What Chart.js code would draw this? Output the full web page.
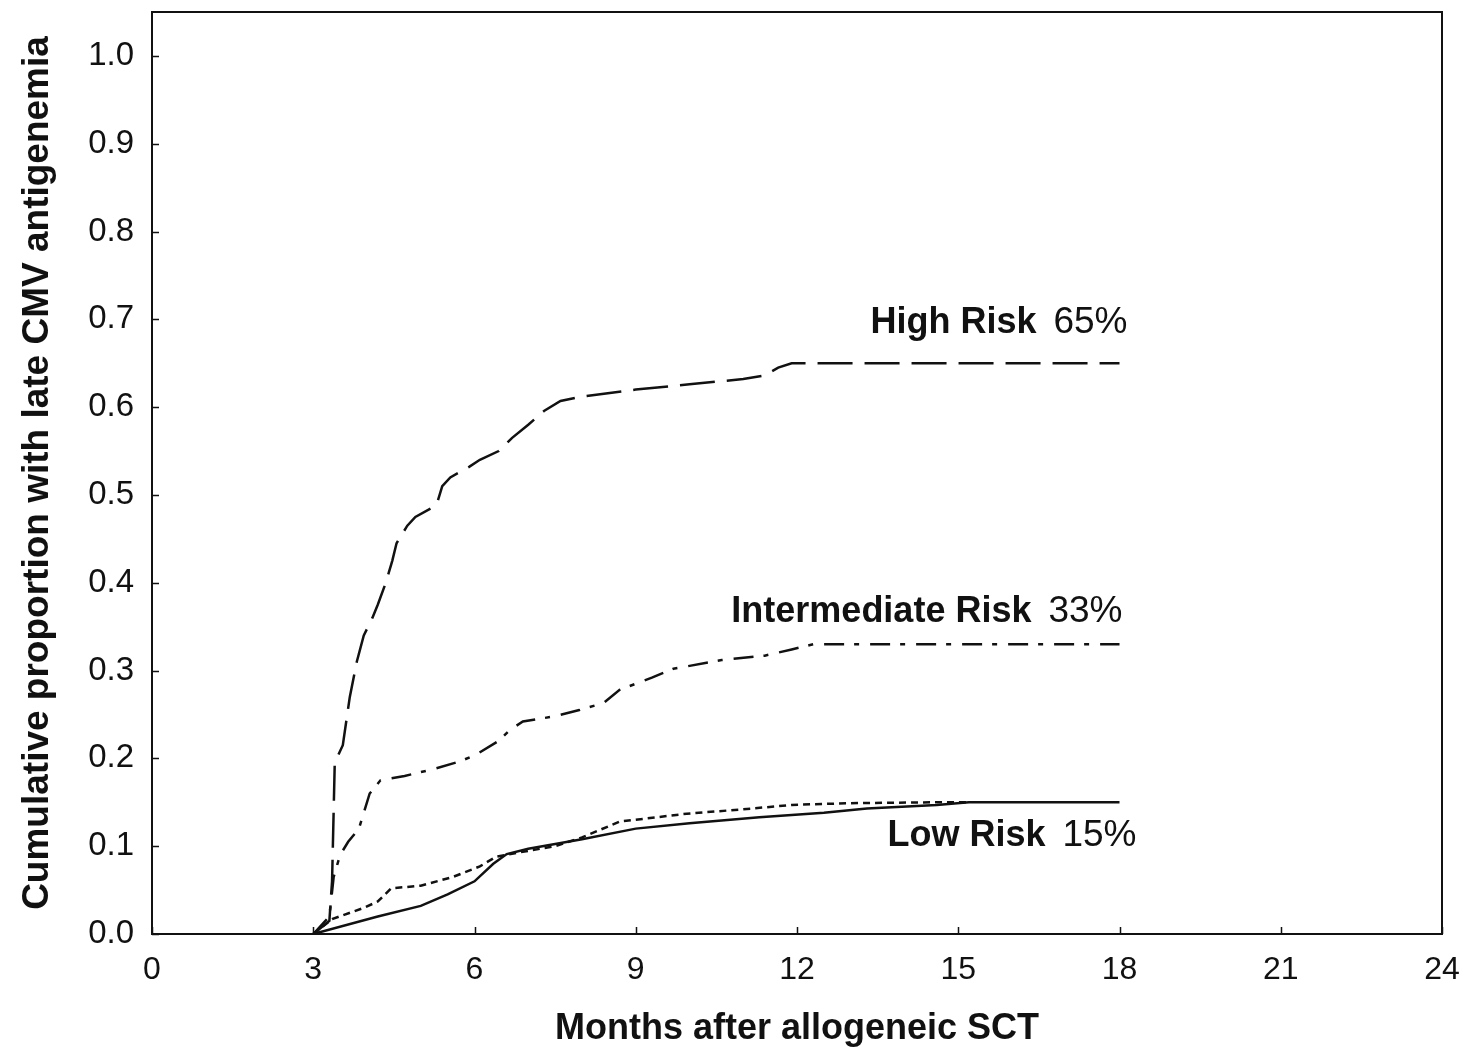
<!DOCTYPE html>
<html>
<head>
<meta charset="utf-8">
<title>Late CMV antigenemia by risk group</title>
<script src="https://cdn.jsdelivr.net/npm/chart.js@4/dist/chart.umd.min.js"></script>
<style>
  html, body { margin: 0; padding: 0; background: #fff; }
  #wrap { position: relative; width: 1471px; height: 1053px; }
</style>
</head>
<body>
<div id="wrap"><canvas id="cmvChart"></canvas></div>
<script>
// Cumulative incidence curves, months after transplant vs proportion
const highMonths = [3.0, 3.3, 3.35, 3.4, 3.55, 3.68, 3.81, 3.94, 4.1, 4.2, 4.35, 4.47, 4.55, 4.75, 4.9, 5.2, 5.3, 5.4, 5.55, 5.9, 6.1, 6.45, 6.7, 7.0, 7.3, 7.6, 8.0, 9.0, 10.0, 11.0, 11.4, 11.65, 11.9, 18.0];
const highValues = [0.0, 0.015, 0.06, 0.195, 0.215, 0.27, 0.31, 0.34, 0.36, 0.375, 0.40, 0.425, 0.445, 0.465, 0.475, 0.485, 0.49, 0.51, 0.52, 0.532, 0.54, 0.55, 0.565, 0.58, 0.596, 0.607, 0.612, 0.62, 0.626, 0.632, 0.636, 0.645, 0.65, 0.65];

const intMonths = [3.0, 3.3, 3.38, 3.5, 3.65, 3.85, 3.95, 4.05, 4.25, 4.7, 5.25, 5.75, 6.05, 6.45, 6.65, 6.9, 7.5, 7.95, 8.4, 8.7, 9.0, 9.3, 9.7, 10.6, 11.4, 11.9, 12.3, 18.0];
const intValues = [0.0, 0.02, 0.065, 0.09, 0.105, 0.12, 0.14, 0.16, 0.175, 0.18, 0.188, 0.197, 0.205, 0.22, 0.232, 0.242, 0.248, 0.255, 0.263, 0.278, 0.285, 0.292, 0.302, 0.312, 0.317, 0.324, 0.33, 0.33];

const lowMonths = [3.0, 4.2, 5.0, 5.5, 6.0, 6.35, 6.6, 7.0, 8.0, 9.0, 10.0, 11.3, 12.5, 13.3, 14.6, 15.2, 18.0];
const lowValues = [0.0, 0.02, 0.032, 0.045, 0.06, 0.08, 0.091, 0.097, 0.108, 0.12, 0.126, 0.133, 0.138, 0.143, 0.147, 0.15, 0.15];

const dotMonths = [3.0, 3.35, 3.95, 4.2, 4.45, 5.0, 5.6, 6.1, 6.4, 6.75, 7.5, 8.0, 8.7, 9.95, 11.0, 11.9, 13.0, 14.6, 15.2];
const dotValues = [0.0, 0.017, 0.03, 0.037, 0.052, 0.055, 0.065, 0.077, 0.088, 0.092, 0.1, 0.11, 0.128, 0.137, 0.142, 0.147, 0.149, 0.15, 0.15];

const xTicks = [0, 3, 6, 9, 12, 15, 18, 21, 24];
const yTicks = [0.0, 0.1, 0.2, 0.3, 0.4, 0.5, 0.6, 0.7, 0.8, 0.9, 1.0];

// group labels: name, percent, value the line levels off at
const groupNames = ['High Risk', 'Intermediate Risk', 'Low Risk'];
const groupPercents = ['65%', '33%', '15%'];
const groupFinal = [0.65, 0.33, 0.15];

const FONT = '"Liberation Sans", Arial, Helvetica, sans-serif';
const INK = '#111';

function toPoints(xs, ys) {
  return xs.map((x, i) => ({ x: x, y: ys[i] }));
}

// inward tick marks, box frame and the group labels
const framePlugin = {
  id: 'frame',
  afterDraw(chart) {
    const ctx = chart.ctx;
    const a = chart.chartArea;
    const xs = chart.scales.x, ys = chart.scales.y;
    ctx.save();
    ctx.strokeStyle = INK;
    ctx.lineWidth = 2;
    ctx.strokeRect(a.left, a.top, a.right - a.left, a.bottom - a.top);

    ctx.lineWidth = 1.5;
    ctx.beginPath();
    yTicks.forEach(v => {
      const py = Math.round(ys.getPixelForValue(v)) + 0.5;
      ctx.moveTo(a.left, py);
      ctx.lineTo(a.left + 7, py);
    });
    xTicks.forEach(v => {
      const px = Math.round(xs.getPixelForValue(v)) + 0.5;
      ctx.moveTo(px, a.bottom);
      ctx.lineTo(px, a.bottom - 7);
    });
    ctx.stroke();

    // labels sit at the right end of each curve
    const x18 = xs.getPixelForValue(18);
    const rights = [x18 + 8, x18 + 3, x18 + 17];
    const offsets = [-40, -32, 34];
    ctx.fillStyle = INK;
    ctx.textBaseline = 'middle';
    groupNames.forEach((name, i) => {
      const y = ys.getPixelForValue(groupFinal[i]) + offsets[i];
      ctx.font = '37px ' + FONT;
      ctx.textAlign = 'right';
      ctx.fillText(groupPercents[i], rights[i], y);
      const pw = ctx.measureText(groupPercents[i]).width;
      ctx.font = 'bold 36px ' + FONT;
      ctx.fillText(name, rights[i] - pw - 17, y);
    });
    ctx.restore();
  }
};

document.addEventListener('DOMContentLoaded', function() {
  const ctx = document.getElementById('cmvChart').getContext('2d');
  const line = {
    borderColor: INK,
    borderWidth: 2.5,
    pointRadius: 0,
    fill: false,
    tension: 0
  };

  new Chart(ctx, {
    type: 'line',
    data: {
      datasets: [
        Object.assign({ label: 'High Risk', data: toPoints(highMonths, highValues), borderDash: [35, 12] }, line),
        Object.assign({ label: 'Intermediate Risk', data: toPoints(intMonths, intValues), borderDash: [20, 10, 5, 11] }, line),
        Object.assign({ label: 'Low Risk', data: toPoints(lowMonths, lowValues) }, line),
        Object.assign({ label: 'Low Risk (dotted)', data: toPoints(dotMonths, dotValues), borderDash: [7, 5] }, line)
      ]
    },
    options: {
      responsive: true,
      maintainAspectRatio: false,
      animation: false,
      layout: { padding: { top: 12, right: 29, left: 0, bottom: 0 } },
      plugins: {
        legend: { display: false },
        tooltip: { enabled: false }
      },
      scales: {
        x: {
          type: 'linear',
          min: 0,
          max: 24,
          afterFit: s => {
            s.height = 119;
            s.paddingLeft = 0;
            s.paddingRight = 0;
          },
          grid: { display: false, drawTicks: false },
          border: { display: false },
          ticks: {
            stepSize: 3,
            autoSkip: false,
            maxRotation: 0,
            padding: 17,
            color: INK,
            font: { family: FONT, size: 32 },
            callback: v => String(v)
          },
          title: {
            display: true,
            text: 'Months after allogeneic SCT',
            color: INK,
            font: { family: FONT, size: 36, weight: 'bold' },
            padding: { top: 0, bottom: 2 }
          }
        },
        y: {
          min: 0,
          max: 1.05,
          afterFit: s => {
            s.width = 152;
            s.paddingTop = 0;
            s.paddingBottom = 0;
          },
          grid: { display: false, drawTicks: false },
          border: { display: false },
          ticks: {
            stepSize: 0.1,
            autoSkip: false,
            padding: 18,
            color: INK,
            font: { family: FONT, size: 33 },
            callback: v => v > 1.0001 ? '' : v.toFixed(1)
          },
          title: {
            display: true,
            text: 'Cumulative proportion with late CMV antigenemia',
            color: INK,
            font: { family: FONT, size: 37, weight: 'bold' },
            padding: { top: 16, bottom: 0 }
          }
        }
      }
    },
    plugins: [framePlugin]
  });
});
</script>
</body>
</html>
